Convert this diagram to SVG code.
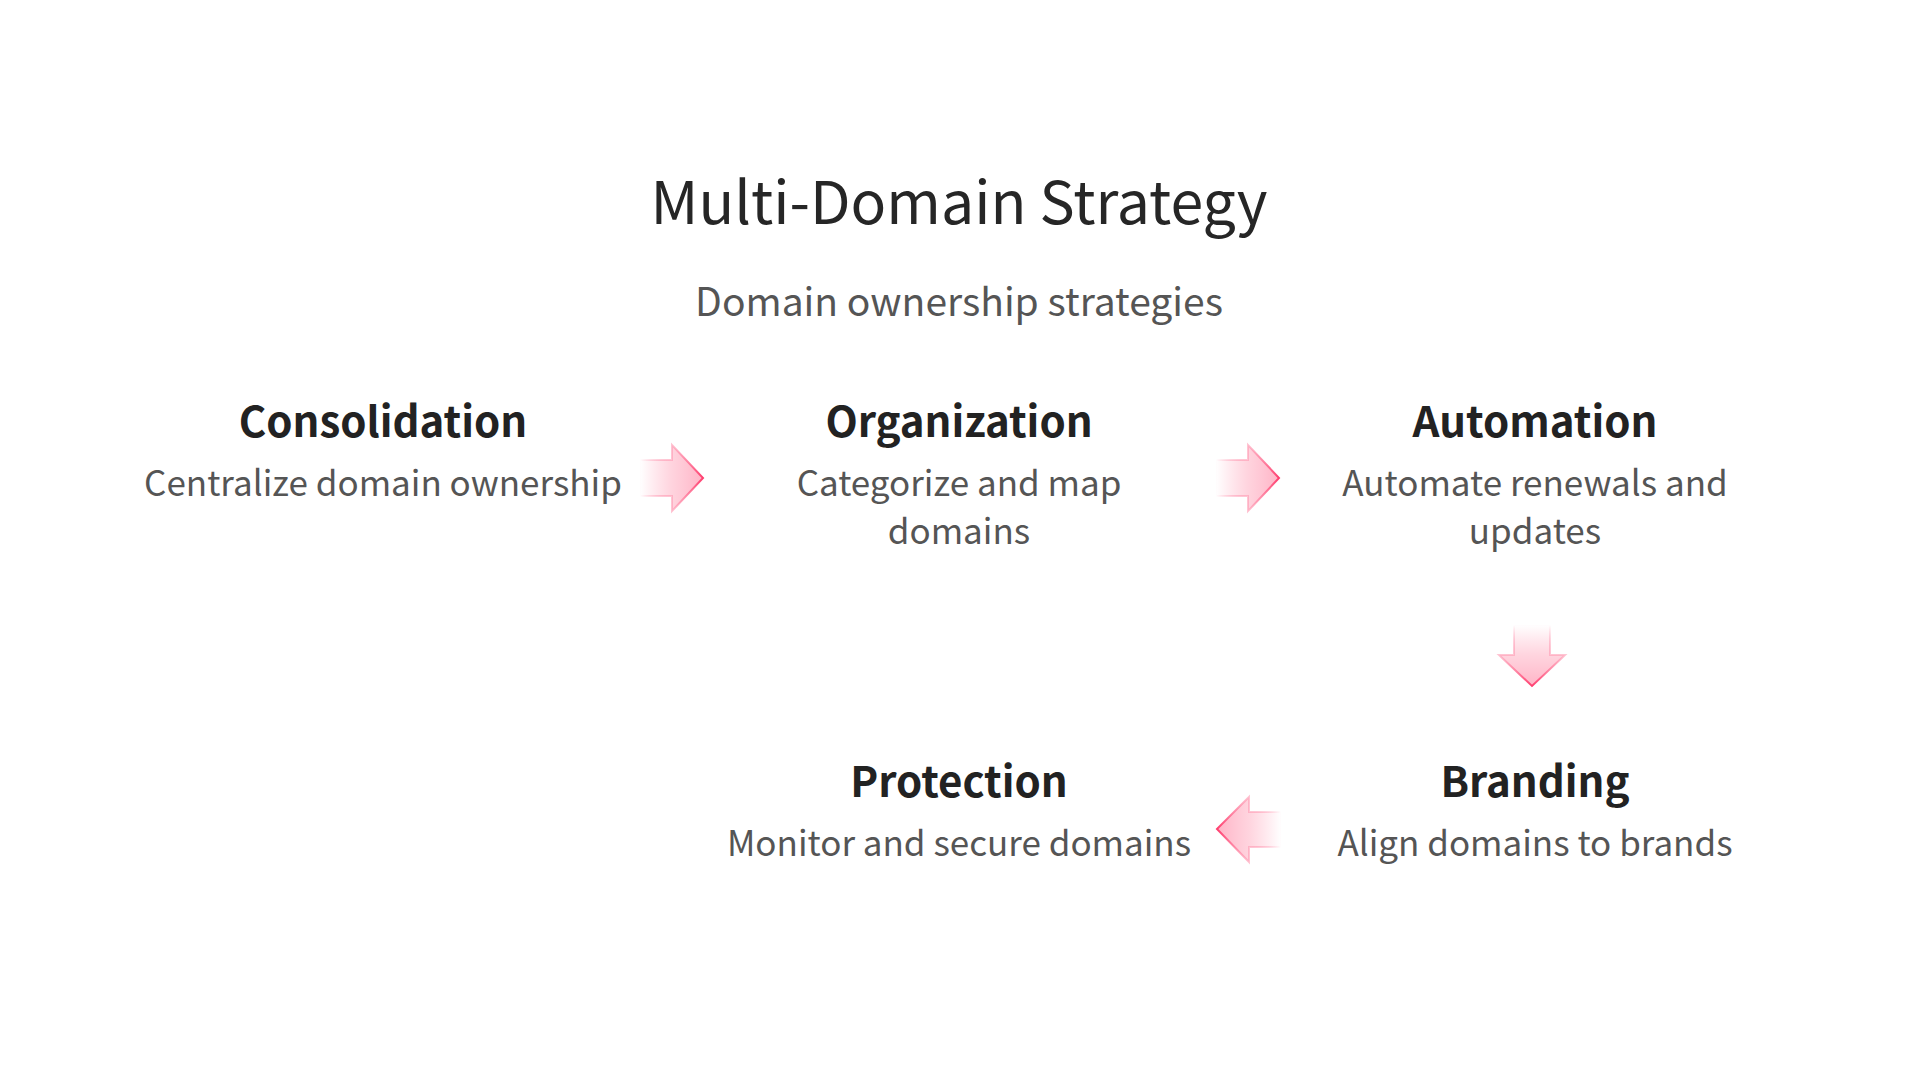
<svg xmlns="http://www.w3.org/2000/svg" width="1920" height="1080" viewBox="0 0 1920 1080">
<defs>
<style>
.title{font-family:"Noto Sans CJK SC","Noto Sans",sans-serif;font-size:59px;fill:#262626;text-anchor:middle;font-weight:400}
.sub{font-family:"Noto Sans CJK SC","Noto Sans",sans-serif;font-size:39px;fill:#555;text-anchor:middle}
.head{font-family:"Noto Sans CJK SC","Noto Sans",sans-serif;font-size:42px;font-weight:700;fill:#222;text-anchor:middle}
.desc{font-family:"Noto Sans CJK SC","Noto Sans",sans-serif;font-size:35px;fill:#555;text-anchor:middle}
.arrow{stroke-width:2;stroke-linejoin:miter}
</style>
<linearGradient id="gR" x1="0" y1="0" x2="1" y2="0">
<stop offset="0" stop-color="#ffc2d1" stop-opacity="0"/>
<stop offset="0.5" stop-color="#ffc9d6" stop-opacity="0.8"/>
<stop offset="1" stop-color="#ffb3c6"/>
</linearGradient>
<linearGradient id="sR" x1="0" y1="0" x2="1" y2="0">
<stop offset="0" stop-color="#ff3d6e" stop-opacity="0"/>
<stop offset="0.5" stop-color="#ff9db5" stop-opacity="0.6"/>
<stop offset="1" stop-color="#ff3d6e"/>
</linearGradient>
<linearGradient id="gL" x1="1" y1="0" x2="0" y2="0">
<stop offset="0" stop-color="#ffc2d1" stop-opacity="0"/>
<stop offset="0.5" stop-color="#ffc9d6" stop-opacity="0.8"/>
<stop offset="1" stop-color="#ffb3c6"/>
</linearGradient>
<linearGradient id="sL" x1="1" y1="0" x2="0" y2="0">
<stop offset="0" stop-color="#ff3d6e" stop-opacity="0"/>
<stop offset="0.5" stop-color="#ff9db5" stop-opacity="0.6"/>
<stop offset="1" stop-color="#ff3d6e"/>
</linearGradient>
<linearGradient id="gD" x1="0" y1="0" x2="0" y2="1">
<stop offset="0" stop-color="#ffc2d1" stop-opacity="0"/>
<stop offset="0.5" stop-color="#ffc9d6" stop-opacity="0.8"/>
<stop offset="1" stop-color="#ffb3c6"/>
</linearGradient>
<linearGradient id="sD" x1="0" y1="0" x2="0" y2="1">
<stop offset="0" stop-color="#ff3d6e" stop-opacity="0"/>
<stop offset="0.5" stop-color="#ff9db5" stop-opacity="0.6"/>
<stop offset="1" stop-color="#ff3d6e"/>
</linearGradient>
</defs>
<rect width="1920" height="1080" fill="#ffffff"/>
<text class="title" x="959" y="224">Multi-Domain Strategy</text>
<text class="sub" x="959" y="316">Domain ownership strategies</text>

<g id="node-consolidation">
<text class="head" x="383" y="437">Consolidation</text>
<text class="desc" x="383" y="496">Centralize domain ownership</text>
</g>
<g id="node-organization">
<text class="head" x="959" y="437">Organization</text>
<text class="desc" x="959" y="496">Categorize and map</text>
<text class="desc" x="959" y="544">domains</text>
</g>
<g id="node-automation">
<text class="head" x="1535" y="437">Automation</text>
<text class="desc" x="1535" y="496">Automate renewals and</text>
<text class="desc" x="1535" y="544">updates</text>
</g>
<g id="node-branding">
<text class="head" x="1535" y="797">Branding</text>
<text class="desc" x="1535" y="856">Align domains to brands</text>
</g>
<g id="node-protection">
<text class="head" x="959" y="797">Protection</text>
<text class="desc" x="959" y="856">Monitor and secure domains</text>
</g>

<g id="connectors">
<path class="arrow" d="M640,460 H672 V445 L703,478 L672,511 V496 H640 Z" fill="url(#gR)" stroke="url(#sR)"/>
<path class="arrow" d="M1216,460 H1248 V445 L1279,478 L1248,511 V496 H1216 Z" fill="url(#gR)" stroke="url(#sR)"/>
<path class="arrow" d="M1514,625 V655 H1499 L1532,686 L1565,655 H1550 V625 Z" fill="url(#gD)" stroke="url(#sD)"/>
<path class="arrow" d="M1281,812 H1249 V797 L1217,829 L1249,862 V847 H1281 Z" fill="url(#gL)" stroke="url(#sL)"/>
</g>
</svg>
